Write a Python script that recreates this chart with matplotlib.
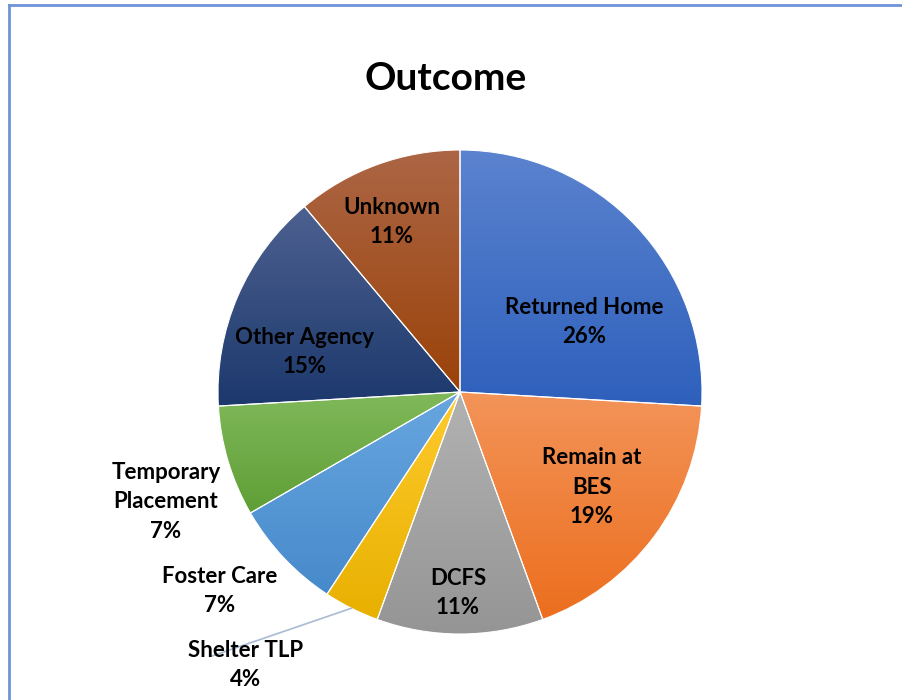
import numpy as np
import matplotlib
matplotlib.use('Agg')
import matplotlib.pyplot as plt
from matplotlib.patches import Wedge
from matplotlib.colors import LinearSegmentedColormap

# data (counts), clockwise from 12 o'clock
labels = ['Returned Home', 'Remain at\nBES', 'DCFS', 'Shelter TLP', 'Foster Care',
          'Temporary\nPlacement', 'Other Agency', 'Unknown']
counts = [7, 5, 3, 1, 2, 2, 4, 3]

# gradient colours per slice (top -> bottom)
tops = ['#5B83CF', '#F39459', '#B2B2B2', '#FFCB2E', '#67A6E0', '#80B95A', '#4D6190', '#AC6645']
bottoms = ['#2E60BC', '#EC6E1E', '#959595', '#E8B000', '#478ACB', '#5F9E36', '#1C386C', '#9B4209']

# label anchor points in pixels (image coords, y down)
label_pos = [(584, 322), (592, 487), (458, 593), (246, 665), (220, 591),
             (166, 502), (305, 352), (392, 222)]

W, H = 903, 700
cx, cy, R = 460, H - 392, 242

fig = plt.figure(figsize=(W / 100, H / 100), dpi=100)
ax = fig.add_axes([0, 0, 1, 1])
font = ['Lato', 'DejaVu Sans']

wedges, _ = ax.pie(counts, center=(cx, cy), radius=R, startangle=90, counterclock=False,
                   colors=bottoms, wedgeprops=dict(edgecolor='white', linewidth=0.8))

# vertical gradient clipped to each wedge
for w, top, bot in zip(wedges, tops, bottoms):
    bb = w.get_path().get_extents()
    cmap = LinearSegmentedColormap.from_list('g', [bot, top])
    grad = np.linspace(0, 1, 256).reshape(-1, 1)
    im = ax.imshow(grad, extent=[bb.x0, bb.x1, bb.y0, bb.y1], origin='lower',
                   cmap=cmap, aspect='auto', zorder=w.get_zorder() + 0.1)
    im.set_clip_path(w)
    # white separators on top
    ax.add_patch(Wedge((cx, cy), R, w.theta1, w.theta2, facecolor='none',
                       edgecolor='white', linewidth=0.8, zorder=w.get_zorder() + 0.2))

ax.set_xlim(0, W)
ax.set_ylim(0, H)
ax.set_aspect('equal')
ax.axis('off')

total = sum(counts)
for lab, v, (x, y) in zip(labels, counts, label_pos):
    ax.text(x, H - y, f'{lab}\n{round(100 * v / total)}%', ha='center', va='center',
            fontsize=16, fontweight='bold', family=font, linespacing=1.5, zorder=10)

# leader line for the small slice
w = wedges[3]
mid = np.deg2rad((w.theta1 + w.theta2) / 2)
ax.plot([cx + R * np.cos(mid), 212], [cy + R * np.sin(mid), H - 656],
        color='#A9BBD3', lw=1.2, zorder=5)

ax.text(446, H - 78, 'Outcome', ha='center', va='center', fontsize=28,
        fontweight='bold', family=font)

# chart frame (only top and left visible)
ax.plot([9, 9], [0, H - 5], color='#6F93D8', lw=2, clip_on=False)
ax.plot([9, W], [H - 5, H - 5], color='#6F93D8', lw=2, clip_on=False)

fig.savefig('out.png', dpi=100)
